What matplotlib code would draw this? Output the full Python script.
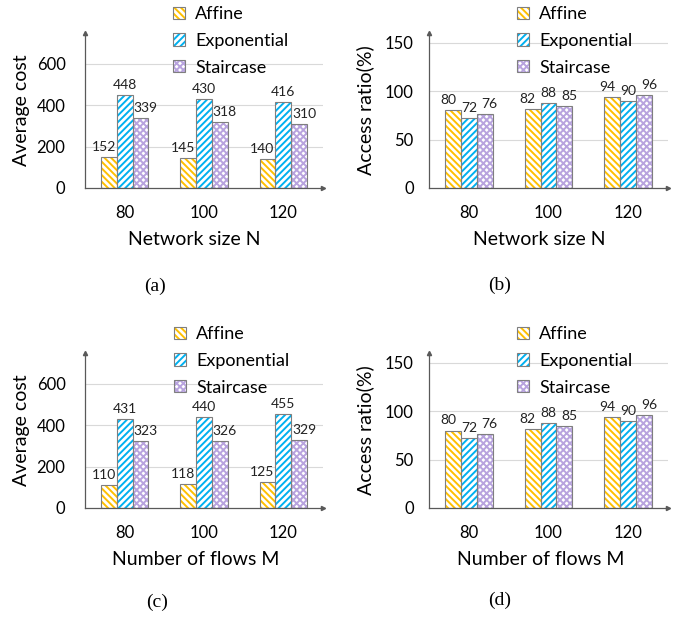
import numpy as np
import matplotlib
matplotlib.use("Agg")
import matplotlib.pyplot as plt
from matplotlib.patches import Patch
from matplotlib.legend_handler import HandlerTuple

plt.rcParams['font.family'] = ['Lato', 'DejaVu Sans']
plt.rcParams['hatch.linewidth'] = 1.4

# data
groups = ['80', '100', '120']
series = ['Affine', 'Exponential', 'Staircase']

cost_affine_n = [152, 145, 140]
cost_exp_n = [448, 430, 416]
cost_stair_n = [339, 318, 310]

ratio_affine_n = [80, 82, 94]
ratio_exp_n = [72, 88, 90]
ratio_stair_n = [76, 85, 96]

cost_affine_m = [110, 118, 125]
cost_exp_m = [431, 440, 455]
cost_stair_m = [323, 326, 329]

ratio_affine_m = [80, 82, 94]
ratio_exp_m = [72, 88, 90]
ratio_stair_m = [76, 85, 96]

colors = ['#FFC000', '#00B0F0', '#B8A3DE']
hatches = ['\\' * 5, '/' * 5, 'x' * 5]
edge = '#7F7F7F'

W, H = 678, 618


def fig_box(left, right, y0, ytop):
    # pixel box -> figure fraction
    return [left / W, 1 - y0 / H, (right - left) / W, (y0 - ytop) / H]


def draw_panel(ax, values, ymax, yticks, ylabel, xlabel, xlab_x, ypad):
    x = np.arange(len(groups))
    width = 0.2
    for i, vals in enumerate(values):
        pos = x + (i - 1) * width
        ax.bar(pos, vals, width, color='white', edgecolor=colors[i],
               hatch=hatches[i], linewidth=0, zorder=2)
        ax.bar(pos, vals, width, fill=False, edgecolor=edge,
               linewidth=0.8, zorder=3)
        for p, v in zip(pos, vals):
            ax.annotate(str(v), (p, v), xytext=((i - 1) * 5, 4),
                        textcoords='offset pixels', ha='center', va='bottom',
                        fontsize=10, color='#222222')

    ax.set_xlim(-0.5, 2.5)
    ax.set_ylim(0, ymax)
    ax.set_xticks(x)
    ax.set_xticklabels(groups)
    ax.set_yticks(yticks)
    ax.tick_params(axis='x', length=0, pad=12, labelsize=12)
    ax.tick_params(axis='y', length=0, pad=ypad, labelsize=12)
    for t in yticks[1:]:
        ax.axhline(t, color='#D9D9D9', linewidth=0.8, zorder=1)

    for s in ['top', 'right']:
        ax.spines[s].set_visible(False)
    for s in ['left', 'bottom']:
        ax.spines[s].set_color('#595959')
        ax.spines[s].set_linewidth(0.9)
    # arrow heads at the axis ends
    ax.plot(1, 0, '>', color='#595959', ms=3, transform=ax.transAxes, clip_on=False)
    ax.plot(0, 1, '^', color='#595959', ms=3, transform=ax.transAxes, clip_on=False)

    ax.set_ylabel(ylabel, fontsize=14)
    ax.set_xlabel(xlabel, fontsize=14)
    ax.yaxis.set_label_coords(-0.265, 0.5)
    ax.xaxis.set_label_coords(xlab_x, -0.33)
    ax.xaxis.label.set_va('center')
    ax.yaxis.label.set_va('center')


def add_legend(fig, px, py):
    handles = []
    for i in range(3):
        h1 = Patch(facecolor='white', edgecolor=colors[i], hatch=hatches[i], linewidth=0)
        h2 = Patch(fill=False, edgecolor=edge, linewidth=0.8)
        handles.append((h1, h2))
    fig.legend(handles, series, loc='upper left', bbox_to_anchor=(px / W, 1 - py / H),
               frameon=False, fontsize=13, handlelength=0.67, handleheight=0.67,
               handletextpad=0.55, labelspacing=0.6, borderpad=0, borderaxespad=0,
               handler_map={tuple: HandlerTuple(ndivide=1)})


fig = plt.figure(figsize=(W / 100, H / 100), dpi=100)

ax_a = fig.add_axes(fig_box(85, 323, 188, 33))
ax_b = fig.add_axes(fig_box(429, 668, 188, 33))
ax_c = fig.add_axes(fig_box(85, 323, 508, 353))
ax_d = fig.add_axes(fig_box(429, 668, 508, 353))

draw_panel(ax_a, [cost_affine_n, cost_exp_n, cost_stair_n], 750, [0, 200, 400, 600],
           'Average cost', 'Network size N', 0.458, 14)
draw_panel(ax_b, [ratio_affine_n, ratio_exp_n, ratio_stair_n], 160, [0, 50, 100, 150],
           'Access ratio(%)', 'Network size N', 0.462, 11)
draw_panel(ax_c, [cost_affine_m, cost_exp_m, cost_stair_m], 750, [0, 200, 400, 600],
           'Average cost', 'Number of flows M', 0.466, 14)
draw_panel(ax_d, [ratio_affine_m, ratio_exp_m, ratio_stair_m], 160, [0, 50, 100, 150],
           'Access ratio(%)', 'Number of flows M', 0.469, 11)

add_legend(fig, 173, 6)
add_legend(fig, 517, 6)
add_legend(fig, 174, 326)
add_legend(fig, 517, 326)

# captions
for lab, cx, cy in [('(a)', 155, 286), ('(b)', 500, 285), ('(c)', 157, 602), ('(d)', 500, 600)]:
    fig.text(cx / W, 1 - cy / H, lab, ha='center', va='center', fontsize=14,
             family='Liberation Serif')

fig.savefig('out.png', dpi=100)
